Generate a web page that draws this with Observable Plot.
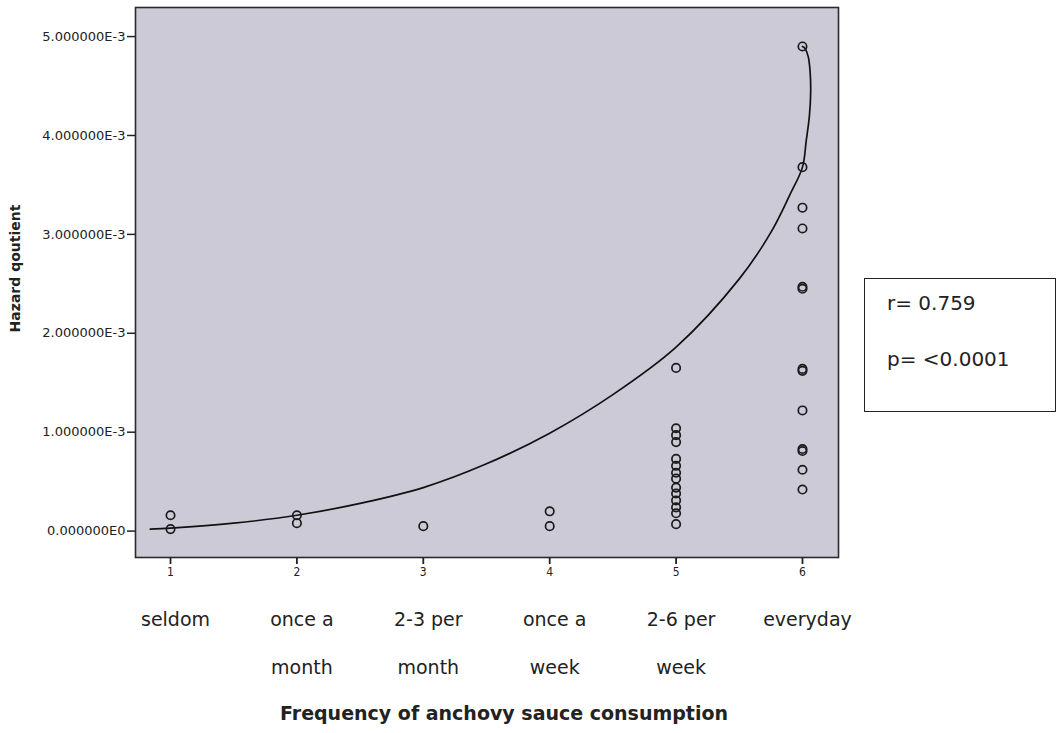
<!DOCTYPE html>
<html>
<head>
<meta charset="utf-8">
<script src="https://cdn.jsdelivr.net/npm/d3@7"></script>
<script src="https://cdn.jsdelivr.net/npm/@observablehq/plot@0.6"></script>
<style>
  html, body { margin: 0; padding: 0; background: #ffffff; }
  #wrap { position: relative; width: 1057px; height: 733px; overflow: hidden; }
  #stats {
    position: absolute; left: 864px; top: 278px; width: 192px; height: 134px;
    box-sizing: border-box; border: 1.5px solid #222; background: #fff;
    font-family: "DejaVu Sans", Verdana, sans-serif; font-size: 20px; color: #222;
  }
  #stats div { position: absolute; left: 22px; line-height: 24px; white-space: nowrap; }
</style>
</head>
<body>
<div id="wrap">
  <div id="chart"></div>
  <div id="stats"><div id="rline" style="top:12px"></div><div id="pline" style="top:68px"></div></div>
</div>
<script>
// ---- data ----
const freq = [1, 2, 3, 4, 5, 6];
const categories = ["seldom", "once a\nmonth", "2-3 per\nmonth", "once a\nweek", "2-6 per\nweek", "everyday"];
const yTicks = [0, 0.001, 0.002, 0.003, 0.004, 0.005];
const xTitle = "Frequency of anchovy sauce consumption";
const yTitle = "Hazard qoutient";
const statR = "r= 0.759";
const statP = "p= <0.0001";

// observed hazard quotients by frequency code
const obsFreq = [1, 1, 2, 2, 3, 4, 4,
  5, 5, 5, 5, 5, 5, 5, 5, 5, 5, 5, 5, 5, 5,
  6, 6, 6, 6, 6, 6, 6, 6, 6, 6, 6, 6, 6];
const obsHQ = [0.00016, 0.00002, 0.00016, 0.00008, 0.00005, 0.00020, 0.00005,
  0.00165, 0.00104, 0.00097, 0.00090, 0.00073, 0.00066, 0.00059, 0.00053, 0.00044, 0.00038, 0.00031, 0.00024, 0.00018, 0.00007,
  0.00490, 0.00368, 0.00327, 0.00306, 0.00247, 0.00245, 0.00164, 0.00162, 0.00122, 0.00083, 0.00081, 0.00062, 0.00042];

// fitted curve as drawn
const curveFreq = [0.84, 1, 1.5, 2, 2.5, 3, 3.5, 4, 4.5, 5, 5.5, 5.75, 5.9, 6, 6.03, 6.055, 6.065, 6.06, 6.045, 6.02, 6.0];
const curveHQ = [0.00002, 0.00003, 0.00008, 0.00016, 0.00028, 0.00044, 0.00068, 0.00099, 0.00138, 0.00186, 0.00255, 0.00302, 0.00340, 0.00368, 0.00395, 0.00420, 0.00445, 0.00465, 0.00480, 0.00488, 0.00490];

const points = obsFreq.map((f, i) => ({f, hq: obsHQ[i]}));
const curve = curveFreq.map((f, i) => ({f, hq: curveHQ[i]}));

const fmtE = d => d.toExponential(6).replace("e+", "E").replace("e", "E");

const chart = Plot.plot({
  width: 1057,
  height: 733,
  marginLeft: 135,
  marginRight: 219,
  marginTop: 7,
  marginBottom: 176,
  style: {background: "transparent", fontFamily: "'DejaVu Sans', Verdana, sans-serif", color: "#222"},
  x: {domain: [0.723, 6.285]},
  y: {domain: [-0.000267, 0.005294]},
  marks: [
    Plot.frame({fill: "#cccad6", stroke: null}),
    Plot.axisY({ticks: yTicks, tickSize: 8, tickPadding: 2, tickFormat: fmtE, fontSize: 13, label: null, stroke: "#222", strokeWidth: 1.5}),
    Plot.axisX({ticks: freq, tickSize: 7, tickPadding: 3, tickFormat: d => String(d), fontSize: 12, fontFamily: "'DejaVu Sans Condensed', 'Liberation Sans Narrow', sans-serif", label: null, stroke: "#222", strokeWidth: 1.8}),
    Plot.axisX({ticks: freq, tickSize: 0, tickPadding: 35, tickFormat: d => categories[freq.indexOf(d)], fontSize: 19, lineHeight: 2.5, dx: 5, label: null}),
    Plot.line(curve, {x: "f", y: "hq", curve: "catmull-rom", stroke: "#111", strokeWidth: 1.7}),
    Plot.dot(points, {x: "f", y: "hq", r: 4.2, stroke: "#1a1a1a", strokeWidth: 1.7, fill: "none"}),
    Plot.frame({stroke: "#2a2a2a", strokeWidth: 1.6}),
    Plot.text([xTitle], {text: d => d, frameAnchor: "bottom", dx: 17, dy: 156, lineAnchor: "middle", fontSize: 19, fontWeight: "bold", fill: "#222"}),
    Plot.text([yTitle], {text: d => d, frameAnchor: "left", rotate: -90, dx: -120, dy: -14, lineAnchor: "middle", textAnchor: "middle", fontSize: 14, fontWeight: "bold", fill: "#222"})
  ]
});
document.getElementById("chart").appendChild(chart);
document.getElementById("rline").textContent = statR;
document.getElementById("pline").textContent = statP;
</script>
</body>
</html>
